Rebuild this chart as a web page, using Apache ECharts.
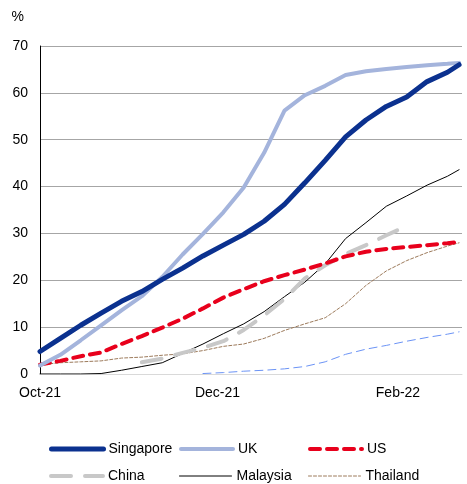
<!DOCTYPE html>
<html>
<head>
<meta charset="utf-8">
<script src="https://cdn.jsdelivr.net/npm/echarts@6/dist/echarts.min.js"></script>
<style>
  html, body { margin: 0; padding: 0; background: #fff; }
  #chart { width: 467px; height: 484px; }
</style>
</head>
<body>
<div id="chart"></div>
<script>
// weekly readings from Oct 1 2021 to Feb 22 2022
const dates = ['2021-10-01', '2021-10-08', '2021-10-15', '2021-10-22', '2021-10-29', '2021-11-05',
  '2021-11-12', '2021-11-19', '2021-11-26', '2021-12-03', '2021-12-10', '2021-12-17', '2021-12-24',
  '2021-12-31', '2022-01-07', '2022-01-14', '2022-01-21', '2022-01-28', '2022-02-04', '2022-02-11',
  '2022-02-18', '2022-02-22'];

const singapore = [4.8, 7.6, 10.4, 13.0, 15.5, 17.6, 20.2, 22.6, 25.2, 27.5, 29.8, 32.6, 36.2, 40.8,
  45.6, 50.6, 54.2, 57.1, 59.1, 62.4, 64.4, 66.0];
const uk = [1.8, 4.1, 7.2, 10.4, 13.6, 16.6, 20.7, 25.5, 29.9, 34.5, 39.8, 47.2, 56.2, 59.5,
  61.5, 63.8, 64.6, 65.1, 65.5, 65.9, 66.2, 66.4];
const us = [2.0, 2.8, 3.8, 4.6, 6.4, 8.1, 9.9, 11.8, 14.0, 16.3, 18.1, 19.8, 21.1, 22.3,
  23.6, 25.1, 26.1, 26.7, 27.1, 27.5, 27.9, 28.2];
const china = [null, null, null, null, null, 2.5, 3.3, 4.5, 5.6, 7.0, 9.4, 12.5, 16.0, 20.4,
  23.2, 25.6, 27.5, 29.6, 31.6, null, null, null];
const malaysia = [0, 0, 0, 0.1, 0.8, 1.6, 2.4, 4.4, 6.4, 8.6, 10.7, 13.3, 16.5, 19.6,
  23.5, 28.9, 32.3, 35.8, 38.0, 40.3, 42.2, 43.6];
const thailand = [2.0, 2.4, 2.6, 2.8, 3.4, 3.6, 4.0, 4.3, 5.0, 5.9, 6.4, 7.6, 9.3, 10.7,
  12.0, 15.0, 18.9, 22.0, 24.2, 25.9, 27.3, 28.0];
// thin blue dashed line, its legend entry is not shown in the picture
const other = [null, null, null, null, null, null, null, null, 0.1, 0.3, 0.6, 0.8, 1.1, 1.6,
  2.6, 4.2, 5.3, 6.1, 7.0, 7.8, 8.5, 9.0];

const xLabelDates = ['2021-10-01', '2021-12-01', '2022-02-01'];
const xLabelText = ['Oct-21', 'Dec-21', 'Feb-22'];
const xEnd = '2022-02-23';
const yTicks = [0, 10, 20, 30, 40, 50, 60, 70];

// x is counted in days since the first date
const DAY = 86400000;
const dayOf = (s) => Math.round((Date.parse(s) - Date.parse(dates[0])) / DAY);
const pair = (vals) => dates.map((d, i) => [dayOf(d), vals[i]]);
const labelDays = xLabelDates.map(dayOf);
const txt = { fontFamily: 'Liberation Sans, Arial, sans-serif', fontSize: 14, color: '#000' };

const styles = {
  Other: { color: '#6b93f5', width: 1, type: [8, 5] },
  Thailand: { color: '#9c7a5b', width: 1, type: [3, 2] },
  Malaysia: { color: '#000000', width: 1, type: 'solid' },
  China: { color: '#c8c8c8', width: 4, type: [20, 14] },
  US: { color: '#e8001c', width: 4, type: [10, 7] },
  UK: { color: '#a4b4dc', width: 4, type: 'solid' },
  Singapore: { color: '#0b318f', width: 5, type: 'solid' }
};

const makeLine = (name, vals) => ({
  name: name,
  type: 'line',
  data: pair(vals),
  symbol: 'none',
  connectNulls: false,
  lineStyle: Object.assign({ cap: 'round' }, styles[name]),
  itemStyle: { color: styles[name].color },
  emphasis: { disabled: true },
  z: 2
});

const legendAt = (name, left, top) => ({
  data: [name],
  left: left,
  top: top,
  padding: 0,
  itemWidth: 52,
  itemHeight: 14,
  itemGap: 0,
  itemStyle: { opacity: 0 },
  lineStyle: Object.assign({ cap: 'round', inactiveWidth: styles[name].width }, styles[name]),
  textStyle: Object.assign({}, txt)
});

const chart = echarts.init(document.getElementById('chart'));
chart.setOption({
  animation: false,
  textStyle: txt,
  grid: { left: 40, right: 5, top: 46, bottom: 110 },
  legend: [
    legendAt('Singapore', 49, 442),
    legendAt('UK', 179, 442),
    legendAt('US', 308, 442),
    legendAt('China', 49, 469),
    legendAt('Malaysia', 179, 469),
    legendAt('Thailand', 308, 469)
  ],
  xAxis: {
    type: 'value',
    min: 0,
    max: dayOf(xEnd),
    axisLine: { lineStyle: { color: '#d9d9d9', width: 1 } },
    axisTick: { show: false },
    splitLine: { show: false },
    axisLabel: Object.assign({}, txt, {
      customValues: labelDays,
      margin: 12,
      hideOverlap: false,
      formatter: (v) => {
        const i = labelDays.indexOf(Math.round(v));
        return i >= 0 ? xLabelText[i] : '';
      }
    })
  },
  yAxis: {
    type: 'value',
    min: yTicks[0],
    max: yTicks[yTicks.length - 1],
    interval: 10,
    name: '%',
    nameLocation: 'end',
    nameGap: 22,
    nameTextStyle: Object.assign({}, txt, { align: 'right', padding: [0, 16, 0, 0] }),
    axisLine: { show: true, lineStyle: { color: '#000', width: 1 } },
    axisTick: { show: false },
    splitLine: { lineStyle: { color: '#a6a6a6', width: 1 } },
    axisLabel: Object.assign({}, txt, { margin: 12 })
  },
  series: [
    makeLine('Other', other),
    makeLine('Thailand', thailand),
    makeLine('Malaysia', malaysia),
    makeLine('China', china),
    makeLine('US', us),
    makeLine('UK', uk),
    makeLine('Singapore', singapore)
  ]
});
</script>
</body>
</html>
